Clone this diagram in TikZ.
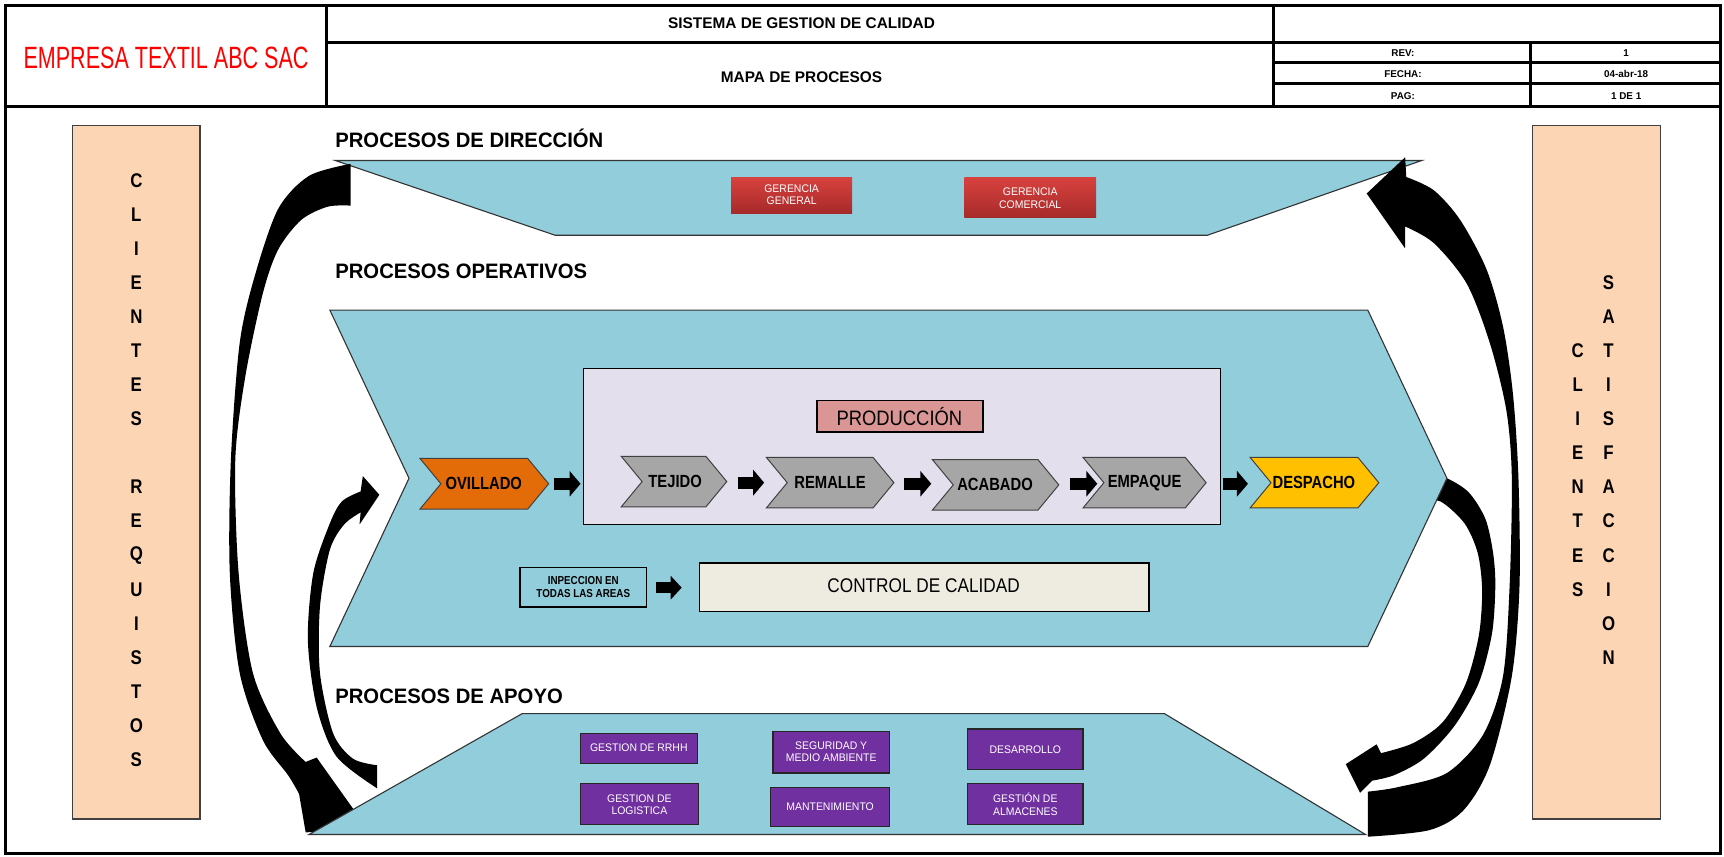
\documentclass[tikz,border=0pt]{standalone}
\usepackage{fontspec}
\setmainfont{Liberation Sans}
\usepackage{graphicx}
\usetikzlibrary{arrows.meta,calc}
\definecolor{bandblue}{HTML}{92CDDC}
\definecolor{peach}{HTML}{FCD5B4}
\definecolor{lav}{HTML}{E4DFEC}
\definecolor{prodpink}{HTML}{DA9694}
\definecolor{orng}{HTML}{E36C09}
\definecolor{gry}{HTML}{A6A6A6}
\definecolor{yel}{HTML}{FFC000}
\definecolor{beige}{HTML}{EEECE1}
\definecolor{purp}{HTML}{7030A0}
\definecolor{redtop}{HTML}{D8423E}
\definecolor{redbot}{HTML}{A62A2A}
\newcommand{\hs}[2]{\scalebox{#1}[1]{#2}}
\newcommand{\fs}[1]{\fontsize{#1}{#1}\selectfont}
\newcommand{\chevshape}[5]{%
  \filldraw[fill=#5, draw=black!75, line width=0.9pt] (#1,#2) -- ({#3-19},#2) -- (#3,{(#2+#4)/2}) -- ({#3-19},#4) -- (#1,#4) -- ({#1+19},{(#2+#4)/2}) -- cycle;}
\tikzset{
  hdr/.style={line width=2.6pt, draw=black},
  bandsty/.style={fill=bandblue, draw=black!80, line width=1pt},
  txt/.style={inner sep=0pt, outer sep=0pt},
  chevtxt/.style={inner sep=0pt, font=\fs{16}\bfseries},
  letter/.style={inner sep=0pt, font=\fs{18}\bfseries},
  purpbox/.style={fill=purp, draw=black!85, line width=1pt},
  purptxt/.style={inner sep=0pt, text=white, align=center, font=\fs{10}},
  blk/.style={line width=11pt, -{Triangle[length=10pt,width=23pt]}},
  blksmall/.style={line width=10pt, -{Triangle[length=10pt,width=21pt]}},
}
\begin{document}
\begin{tikzpicture}[x=1pt,y=-1pt]
\useasboundingbox (0,0) rectangle (1568,779);
\fill[white] (0,0) rectangle (1568,779);
% ---------- header ----------
\draw[hdr] (5,5) rectangle (1565,776);
\draw[hdr] (5,97) -- (1565,97);
\draw[hdr] (297,5) -- (297,97);
\draw[hdr] (1158,5) -- (1158,97);
\draw[hdr] (297,39) -- (1565,39);
\draw[hdr] (1158,57) -- (1565,57);
\draw[hdr] (1158,76) -- (1565,76);
\draw[hdr] (1392,39) -- (1392,97);
\node[txt] (emp) at (151,53) {\fs{28}\color{red}\hs{0.7}{EMPRESA TEXTIL ABC SAC}};
\node[txt] (sgc) at (729,21) {\fs{14}\bfseries SISTEMA DE GESTION DE CALIDAD};
\node[txt] (mapa) at (729,70) {\fs{14}\bfseries MAPA DE PROCESOS};
\node[txt] (rev) at (1276,48) {\fs{9}\bfseries REV:};
\node[txt] (fecha) at (1276,67) {\fs{9}\bfseries FECHA:};
\node[txt] (pag) at (1276,87) {\fs{9}\bfseries PAG:};
\node[txt] (revv) at (1479,48) {\fs{9}\bfseries 1};
\node[txt] (fechav) at (1479,67) {\fs{9}\bfseries 04-abr-18};
\node[txt] (pagv) at (1479,87) {\fs{9}\bfseries 1 DE 1};
% ---------- side boxes ----------
\filldraw[fill=peach, draw=black!75, line width=1.2pt] (66,114) rectangle (182,745);
\filldraw[fill=peach, draw=black!75, line width=1.2pt] (1394,114) rectangle (1510,745);
\foreach \l [count=\i from 0] in {C,L,I,E,N,T,E,S}
  \node[letter] (lc\i) at (124,{164+31*\i}) {\hs{0.85}{\l}};
\foreach \l [count=\i from 0] in {R,E,Q,U,I,S,T,O,S}
  \node[letter] (lr\i) at (124,{443+31*\i}) {\hs{0.85}{\l}};
\foreach \l [count=\i from 0] in {C,L,I,E,N,T,E,S}
  \node[letter] (rc\i) at (1435,{319+31*\i}) {\hs{0.85}{\l}};
\foreach \l [count=\i from 0] in {S,A,T,I,S,F,A,C,C,I,O,N}
  \node[letter] (rs\i) at (1463,{257+31*\i}) {\hs{0.85}{\l}};
% ---------- titles ----------
\node[txt, anchor=west] (tdir) at (305,126) {\fs{19}\bfseries\hs{0.97}{PROCESOS DE DIRECCIÓN}};
\node[txt, anchor=west] (tope) at (305,247) {\fs{19}\bfseries\hs{0.97}{PROCESOS OPERATIVOS}};
\node[txt, anchor=west] (tapo) at (305,633) {\fs{19}\bfseries\hs{0.97}{PROCESOS DE APOYO}};
% ---------- direccion band ----------
\filldraw[bandsty] (305,146) -- (1293,146) -- (1098,214) -- (505,214) -- cycle;
\shade[top color=redtop, bottom color=redbot] (665,161) rectangle (775,194);
\shade[top color=redtop, bottom color=redbot] (877,161) rectangle (997,198);
\node[txt, text=white, align=center, font=\fs{10}] (gg) at (720,177) {\hs{0.95}{GERENCIA}\\[1pt]\hs{0.95}{GENERAL}};
\node[txt, text=white, align=center, font=\fs{10}] (gc) at (937,180) {\hs{0.95}{GERENCIA}\\[2pt]\hs{0.95}{COMERCIAL}};
% ---------- curved arrows ----------
% right outer
\fill[black] (1243,176) -- (1278,143) -- plot[smooth] coordinates {(1279,161) (1304,173) (1328,200) (1352,245) (1367,297) (1376,358) (1381,434) (1382,533) (1375,615) (1355,696) (1331,737) (1300,755) (1244,761)} -- plot[smooth] coordinates {(1244,720) (1271,716) (1316,703) (1349,668) (1367,615) (1373,533) (1375,434) (1370,373) (1355,312) (1334,258) (1304,221) (1278,206)} -- (1278,226) -- cycle;
% left outer
\fill[black] plot[smooth] coordinates {(319,149) (281,160) (253,190) (232,250) (218,312) (210,418) (209,521) (218,612) (239,673) (262,705) (272,722)} -- (278,757) -- (335,755) -- (288,689) -- plot[smooth] coordinates {(278,693) (255,667) (230,612) (217,521) (214,418) (223,343) (239,267) (253,227) (274,200) (298,188) (319,187)} -- cycle;
% left inner
\fill[black] plot[smooth] coordinates {(343,696) (321,690) (303,667) (291,612) (291,552) (300,500) (313,477) (328,466)} -- (327,477) -- (345,450) -- (330,433) -- plot[smooth] coordinates {(328,447) (311,456) (300,476) (285,521) (280,582) (288,643) (306,688) (343,717)} -- cycle;
% right inner
\fill[black] plot[smooth] coordinates {(1296,430) (1316,435) (1336,448) (1351,472) (1358,503) (1360,533) (1357,576) (1345,621) (1323,660) (1295,690) (1268,705) (1248,710)} -- (1237,721) -- (1224,695) -- (1252,677) -- plot[smooth] coordinates {(1256,685) (1285,676) (1312,657) (1333,622) (1345,578) (1348,537) (1344,503) (1332,476) (1310,456) (1294,458)} -- cycle;
% ---------- operativos chevron ----------
\filldraw[bandsty] (300,282) -- (1244,282) -- (1316,435) -- (1244,588) -- (300,588) -- (372,435) -- cycle;
\filldraw[fill=lav, draw=black, line width=1.2pt] (531,335) rectangle (1110,477);
\filldraw[fill=prodpink, draw=black, line width=1.2pt] (743,364) rectangle (894,393);
\node[txt] (prod) at (818,378.5) {\fs{19}\hs{0.88}{PRODUCCIÓN}};
\chevshape{382}{417}{499}{463}{orng}
\chevshape{565}{415}{661}{461}{gry}
\chevshape{697}{416}{813}{462}{gry}
\chevshape{848}{418}{963}{464}{gry}
\chevshape{985}{416}{1097}{462}{gry}
\chevshape{1137}{416}{1254}{462}{yel}
\node[chevtxt] (ovi) at (440,440) {\hs{0.84}{OVILLADO}};
\node[chevtxt] (tej) at (614,438) {\hs{0.84}{TEJIDO}};
\node[chevtxt] (rem) at (755,439) {\hs{0.84}{REMALLE}};
\node[chevtxt] (aca) at (905,441) {\hs{0.84}{ACABADO}};
\node[chevtxt] (emq) at (1041,439) {\hs{0.84}{EMPAQUE}};
\node[chevtxt] (des) at (1195,439) {\hs{0.84}{DESPACHO}};
\coordinate (a1s) at (504,440); \coordinate (a1e) at (528,440);
\coordinate (a2s) at (671,439); \coordinate (a2e) at (695,439);
\coordinate (a3s) at (822,440); \coordinate (a3e) at (847,440);
\coordinate (a4s) at (973,440); \coordinate (a4e) at (998,440);
\coordinate (a5s) at (1112,440); \coordinate (a5e) at (1135,440);
\foreach \k in {1,...,5} \draw[blk] (a\k s) -- (a\k e);
\filldraw[fill=bandblue, draw=black, line width=1.2pt] (473,516) rectangle (588,552);
\node[txt, align=center, font=\fs{10.5}\bfseries] (insp) at (530.5,534) {\hs{0.85}{INPECCION EN}\\[1pt]\hs{0.85}{TODAS LAS AREAS}};
\coordinate (b1s) at (597,534.5); \coordinate (b1e) at (620,534.5);
\draw[blksmall] (b1s) -- (b1e);
\filldraw[fill=beige, draw=black, line width=1.2pt] (636,512) rectangle (1045,556);
\node[txt] (cc) at (840,533) {\fs{18}\hs{0.87}{CONTROL DE CALIDAD}};
% ---------- apoyo ----------
\filldraw[bandsty] (475,649) -- (1059,649) -- (1242,759) -- (281,759) -- cycle;
\filldraw[purpbox] (528,667) rectangle (634,694);
\filldraw[purpbox] (703,665) rectangle (809,703);
\filldraw[purpbox] (880,663) rectangle (985,700);
\filldraw[purpbox] (528,713) rectangle (635,750);
\filldraw[purpbox] (701,716) rectangle (809,752);
\filldraw[purpbox] (880,713) rectangle (985,750);
\node[purptxt] (rrhh) at (581,680.5) {\hs{0.95}{GESTION DE RRHH}};
\node[purptxt] (seg) at (756,684) {\hs{0.95}{SEGURIDAD Y}\\[1pt]\hs{0.95}{MEDIO AMBIENTE}};
\node[purptxt] (desa) at (932.5,681.5) {\hs{0.95}{DESARROLLO}};
\node[purptxt] (logi) at (581.5,731.5) {\hs{0.95}{GESTION DE}\\[1pt]\hs{0.95}{LOGISTICA}};
\node[purptxt] (mant) at (755,734) {\hs{0.95}{MANTENIMIENTO}};
\node[purptxt] (alm) at (932.5,731.5) {\hs{0.95}{GESTIÓN DE}\\[1pt]\hs{0.95}{ALMACENES}};
\end{tikzpicture}
\end{document}
